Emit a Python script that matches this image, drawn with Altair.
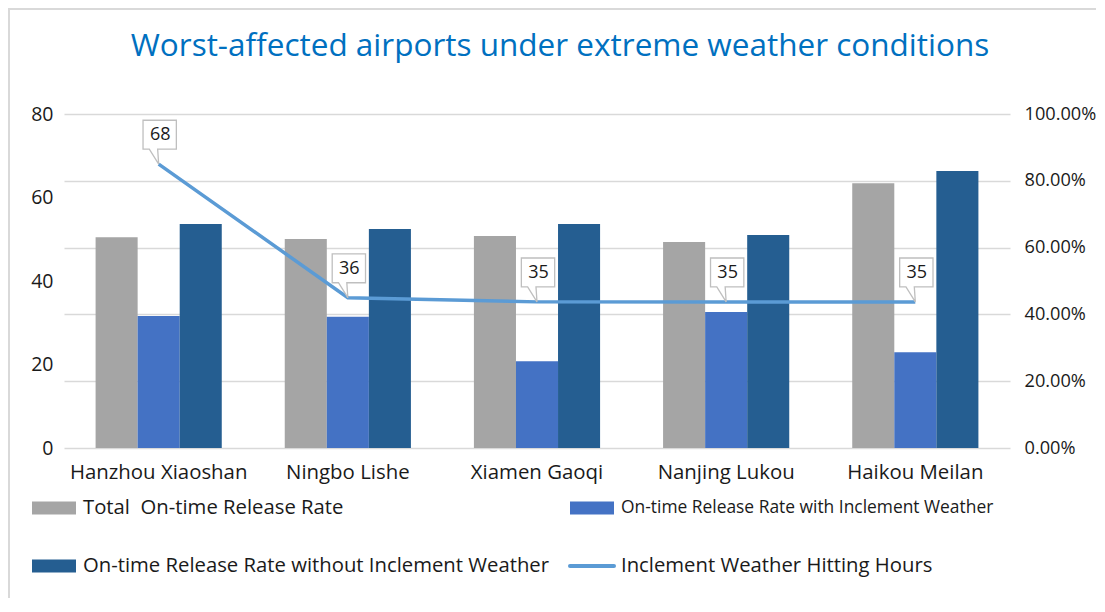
import altair as alt
import pandas as pd

airports = ["Hanzhou Xiaoshan", "Ningbo Lishe", "Xiamen Gaoqi", "Nanjing Lukou", "Haikou Meilan"]
total_rate = [0.631, 0.626, 0.635, 0.617, 0.793]
with_weather = [0.395, 0.393, 0.260, 0.407, 0.287]
without_weather = [0.671, 0.656, 0.671, 0.638, 0.829]
hitting_hours = [68, 36, 35, 35, 35]

title_text = "Worst-affected airports under extreme weather conditions"
series_names = [
    "Total\u00a0 On-time Release Rate",
    "On-time Release Rate with Inclement Weather",
    "On-time Release Rate without Inclement Weather",
]
line_name = "Inclement Weather Hitting Hours"
bar_colors = ["#A5A5A5", "#4472C4", "#255E91"]
line_color = "#5B9BD5"

FONT = "Open Sans"
TEXT_COLOR = "#1a1a1a"

rows = []
for i, a in enumerate(airports):
    for s, vals in zip(series_names, [total_rate, with_weather, without_weather]):
        rows.append({"airport": a, "series": s, "rate": vals[i]})
bar_df = pd.DataFrame(rows)
line_df = pd.DataFrame({"airport": airports, "hours": hitting_hours})

x_axis = alt.Axis(
    title=None, labelAngle=0, ticks=False, domain=False, grid=False,
    labelFont=FONT, labelFontSize=20.4, labelColor=TEXT_COLOR, labelPadding=14,
)
x_scale = alt.Scale(paddingInner=0.333, paddingOuter=0.167)
x_enc = alt.X("airport:N", sort=airports, scale=x_scale, axis=x_axis)

bars = alt.Chart(bar_df).mark_bar().encode(
    x=x_enc,
    xOffset=alt.XOffset("series:N", sort=series_names, scale=alt.Scale(paddingInner=0, paddingOuter=0)),
    y=alt.Y(
        "rate:Q",
        scale=alt.Scale(domain=[0, 1], nice=False),
        axis=alt.Axis(
            orient="right", title=None, format=".2%", values=[0, 0.2, 0.4, 0.6, 0.8, 1.0],
            ticks=False, domain=False, grid=True, gridColor="#D9D9D9", gridWidth=1.3,
            labelFont=FONT, labelFontSize=18.2, labelColor=TEXT_COLOR, labelPadding=14,
        ),
    ),
    color=alt.Color("series:N", sort=series_names,
                    scale=alt.Scale(domain=series_names, range=bar_colors), legend=None),
)

y_line = alt.Y(
    "hours:Q",
    scale=alt.Scale(domain=[0, 80], nice=False),
    axis=alt.Axis(
        orient="left", title=None, values=[0, 20, 40, 60, 80], ticks=False, domain=False, grid=False,
        labelFont=FONT, labelFontSize=19.5, labelColor=TEXT_COLOR, labelPadding=11,
    ),
)

line = alt.Chart(line_df).mark_line(color=line_color, strokeWidth=3.5).encode(
    x=x_enc, y=y_line
)

callout_path = "M0,0 L-0.06,-0.88 L1.04,-0.88 L1.04,-2.58 L-0.92,-2.58 L-0.92,-0.88 L-0.55,-0.88 Z"
callouts = alt.Chart(line_df).mark_point(
    shape=callout_path, size=1156, filled=True, fill="white", stroke="#BFBFBF", strokeWidth=1.3, opacity=1
).encode(x=x_enc, y=y_line)

labels = alt.Chart(line_df).mark_text(
    font=FONT, fontSize=18, color=TEXT_COLOR, dy=-29, dx=1.5, baseline="middle", align="center"
).encode(x=x_enc, y=y_line, text="hours:Q")

line_layer = alt.layer(line, callouts, labels)

# legend (bottom, two columns)
def legend_box(name, color, x0, yc, fs):
    d = pd.DataFrame({"label": [name]})
    box = alt.Chart(d).mark_rect(color=color).encode(
        x=alt.value(x0), x2=alt.value(x0 + 44), y=alt.value(yc - 6.5), y2=alt.value(yc + 6.5)
    )
    txt = alt.Chart(d).mark_text(
        font=FONT, fontSize=fs, color=TEXT_COLOR, align="left", baseline="middle"
    ).encode(x=alt.value(x0 + 51), y=alt.value(yc), text="label:N")
    return [box, txt]

legend_layers = []
legend_layers += legend_box(series_names[0], bar_colors[0], -32, 394, 20.3)
legend_layers += legend_box(series_names[1], bar_colors[1], 506, 394, 17.4)
legend_layers += legend_box(series_names[2], bar_colors[2], -32, 452, 20.3)
ld = pd.DataFrame({"label": [line_name]})
legend_layers.append(
    alt.Chart(ld).mark_rule(color=line_color, strokeWidth=4, strokeCap="round").encode(
        x=alt.value(506), x2=alt.value(550), y=alt.value(452)
    )
)
legend_layers.append(
    alt.Chart(ld).mark_text(font=FONT, fontSize=20.3, color=TEXT_COLOR, align="left", baseline="middle").encode(
        x=alt.value(557), y=alt.value(452), text="label:N"
    )
)

title_mark = alt.Chart(pd.DataFrame({"label": [title_text]})).mark_text(
    font=FONT, fontSize=31.5, color="#0070C0", align="center", baseline="middle"
).encode(x=alt.value(496), y=alt.value(-67), text="label:N")

border = alt.Chart(pd.DataFrame({"label": ["frame"]})).mark_rect(
    fill="transparent", stroke="#D9D9D9", strokeWidth=2
).encode(x=alt.value(-55), x2=alt.value(1100), y=alt.value(-105), y2=alt.value(560))

chart = alt.layer(bars, line_layer, border, title_mark, *legend_layers).resolve_scale(
    y="independent"
).properties(
    width=946,
    height=334,
    padding={"left": 56, "top": 106, "right": 86, "bottom": 150},
    autosize=alt.AutoSizeParams(type="none"),
    background="white",
).configure_view(strokeWidth=0, stroke="transparent")

chart.save("out.html", embed_options={"renderer": "svg", "actions": False})
